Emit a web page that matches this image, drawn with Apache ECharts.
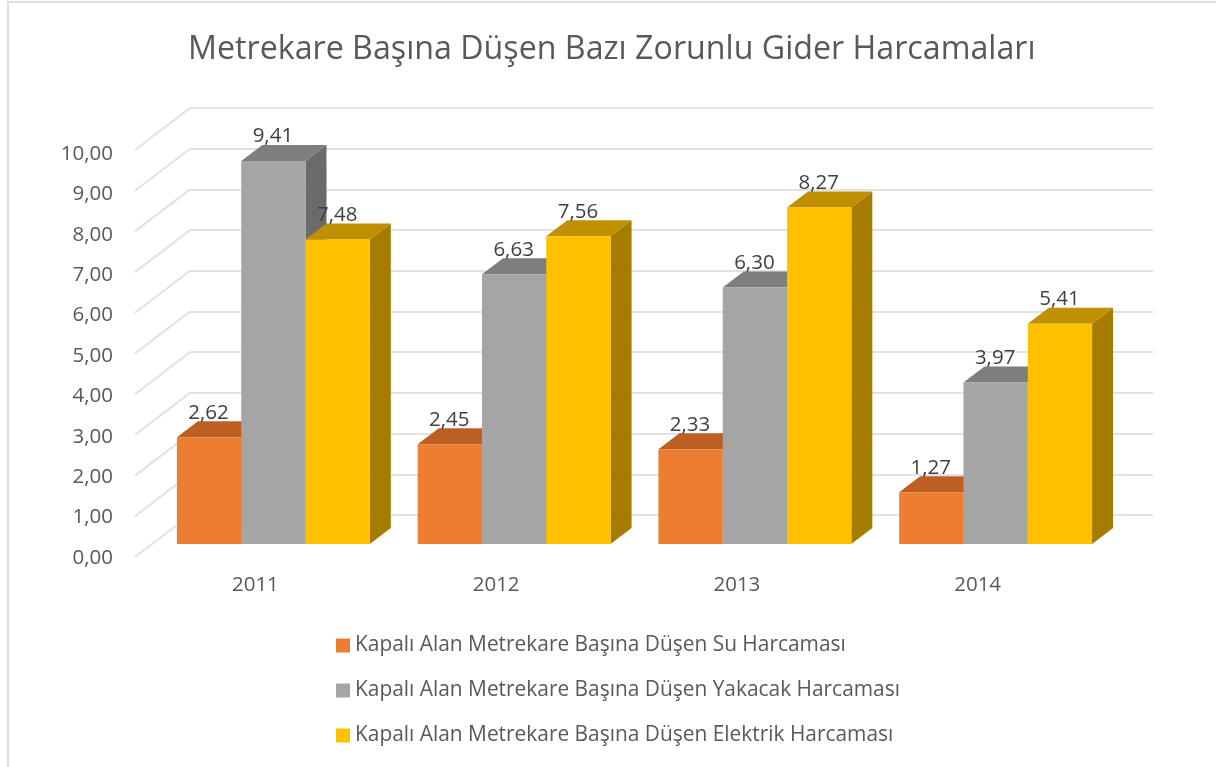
<!DOCTYPE html>
<html><head><meta charset="utf-8">
<style>html,body{margin:0;padding:0;background:#fff}#c{width:1216px;height:767px}</style>
<script src="https://cdn.jsdelivr.net/npm/echarts@6/dist/echarts.min.js"></script>
</head><body><div id="c"></div>
<script>
const titleText = 'Metrekare Başına Düşen Bazı Zorunlu Gider Harcamaları';
const categories = ['2011', '2012', '2013', '2014'];
const seriesNames = [
  'Kapalı Alan Metrekare Başına Düşen Su Harcaması',
  'Kapalı Alan Metrekare Başına Düşen Yakacak Harcaması',
  'Kapalı Alan Metrekare Başına Düşen Elektrik Harcaması'
];
const suValues = [2.62, 2.45, 2.33, 1.27];
const yakacakValues = [9.41, 6.63, 6.30, 3.97];
const elektrikValues = [7.48, 7.56, 8.27, 5.41];
const gridTicks = [0,1,2,3,4,5,6,7,8,9,10];

const FONT = '"Open Sans", sans-serif';
const TEXT = '#595959';
const faces = [
  {front:'#ED7D31', top:'#BD5F22', side:'#A85420'},
  {front:'#A5A5A5', top:'#7E7E7E', side:'#6A6A6A'},
  {front:'#FFC000', top:'#BF9000', side:'#A67C00'}
];
// oblique projection: floor front edge -> bar front -> bar back -> back wall
const barInset = [18, -13], barDepth = [21, -16], wallDepth = [55, -42];
const barWidthPx = 64.3;

function barSeries(name, values, idx) {
  return {
    type: 'custom', name, xAxisIndex: 0, yAxisIndex: 0, z: 3 + idx,
    itemStyle: {color: faces[idx].front},
    encode: {x: 0, y: 1},
    data: values.map((v, i) => [i, v]),
    renderItem(params, api) {
      const top = api.coord([api.value(0), api.value(1)]);
      const base = api.coord([api.value(0), 0]);
      const x0 = top[0] + barInset[0] + (idx - 1.5) * barWidthPx;
      const x1 = x0 + barWidthPx;
      const yT = top[1] + barInset[1], yB = base[1] + barInset[1];
      const dx = barDepth[0], dy = barDepth[1], f = faces[idx];
      return {type: 'group', children: [
        {type:'polygon', shape:{points:[[x1,yT],[x1+dx,yT+dy],[x1+dx,yB+dy],[x1,yB]]}, style:{fill:f.side}},
        {type:'polygon', shape:{points:[[x0,yT],[x1,yT],[x1+dx,yT+dy],[x0+dx,yT+dy]]}, style:{fill:f.top}},
        {type:'rect', shape:{x:x0,y:yT,width:barWidthPx,height:yB-yT}, style:{fill:f.front}},
        {type:'text', z2: 10, style:{
          x:(x0+x1)/2 - 0.5, y:yT-24.5, text:api.value(1).toFixed(2).replace('.',','),
          fill:'#404040', font:'20.5px '+FONT, align:'center', verticalAlign:'middle'}}
      ]};
    }
  };
}

const option = {
  animation: false,
  backgroundColor: '#fff',
  title: {text: titleText, left: 188, top: 34, padding: 0,
    textStyle: {color: TEXT, fontFamily: FONT, fontSize: 32.2, fontWeight: 'normal'}},
  legend: {orient:'vertical', left:336, top:635, padding:0, itemWidth:14, itemHeight:14, itemGap:24, icon:'rect',
    data: seriesNames, selectedMode:false,
    textStyle:{color:TEXT, fontFamily:FONT, fontSize:20.9, lineHeight:21, padding:0}},
  grid: [
    {left:135, width:963, top:150, height:407},
    {left:190, width:963, top:108, height:407},
    {left:135, width:963, top:154, height:404}
  ],
  xAxis: [
    {type:'category', gridIndex:0, data:categories, axisLine:{show:false}, axisTick:{show:false},
     axisLabel:{color:TEXT, fontFamily:FONT, fontSize:20.5, margin:18}},
    {type:'category', gridIndex:1, data:categories, show:false},
    {type:'category', gridIndex:2, data:categories, show:false}
  ],
  yAxis: [
    {type:'value', gridIndex:0, min:0, max:10, interval:1, show:false},
    {type:'value', gridIndex:1, min:0, max:10, interval:1, axisLine:{show:false}, axisTick:{show:false}, axisLabel:{show:false},
     splitLine:{show:true, lineStyle:{color:'#E2E2E2', width:2}}},
    {type:'value', gridIndex:2, min:0, max:10, interval:1, splitLine:{show:false}, axisLine:{show:false}, axisTick:{show:false},
     axisLabel:{color:TEXT, fontFamily:FONT, fontSize:20.5, margin:22, formatter:v=>v.toFixed(2).replace('.',',')}}
  ],
  graphic: [
    {type:'rect', shape:{x:7,y:1,width:1209,height:2}, style:{fill:'#DEDEDE'}, silent:true},
    {type:'rect', shape:{x:7,y:1,width:2,height:766}, style:{fill:'#DEDEDE'}, silent:true}
  ],
  series: [
    {type:'custom', xAxisIndex:0, yAxisIndex:0, z:1, silent:true, encode:{y:0},
     data: gridTicks.map(t=>[t]),
     renderItem(params, api){
       const p = api.coord([0, api.value(0)]);
       const left = p[0] - api.size([1,0])[0]/2;
       return {type:'line', shape:{x1:left,y1:p[1],x2:left+wallDepth[0],y2:p[1]+wallDepth[1]},
               style:{stroke:'#E2E2E2', lineWidth:2}};
     }},
    barSeries(seriesNames[0], suValues, 0),
    barSeries(seriesNames[1], yakacakValues, 1),
    barSeries(seriesNames[2], elektrikValues, 2)
  ]
};
echarts.init(document.getElementById('c'), null, {renderer:'canvas'}).setOption(option);
</script></body></html>
